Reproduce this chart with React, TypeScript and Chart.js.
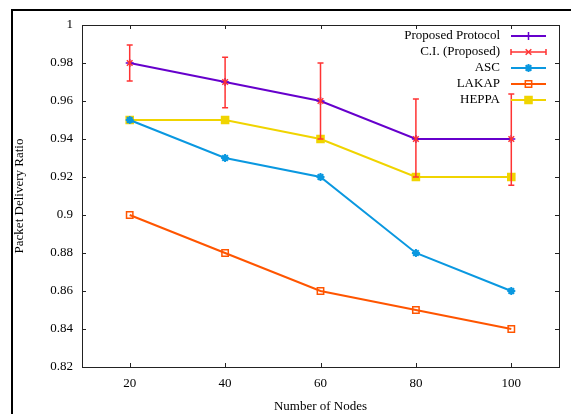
import React, { useEffect, useRef } from 'react';
import { Chart, registerables } from 'chart.js';
import { drawPoint } from 'chart.js/helpers';

Chart.register(...registerables);

const nodes = [20, 40, 60, 80, 100];
const proposed = [0.98, 0.97, 0.96, 0.94, 0.94];
const ciLow = [0.9705, 0.9565, 0.94, 0.92, 0.9156];
const ciHigh = [0.9895, 0.983, 0.98, 0.961, 0.9637];
const asc = [0.95, 0.93, 0.92, 0.88, 0.86];
const lakap = [0.9, 0.88, 0.86, 0.85, 0.84];
const heppa = [0.95, 0.95, 0.94, 0.92, 0.92];

const xTicks = [20, 40, 60, 80, 100];
const yTicks = [0.82, 0.84, 0.86, 0.88, 0.9, 0.92, 0.94, 0.96, 0.98, 1];
const seriesNames = ['Proposed Protocol', 'C.I. (Proposed)', 'ASC', 'LAKAP', 'HEPPA'];
const xTitle = 'Number of Nodes';
const yTitle = 'Packet Delivery Ratio';

const FONT_FAMILY = '"Liberation Serif", "Times New Roman", serif';
const FONT = '13px ' + FONT_FAMILY;
const CI_COLOR = '#ff3333';

const pts = (ys: number[]) => nodes.map((x, i) => ({ x, y: ys[i] }));

const decor = {
  id: 'decor',
  beforeDatasetsDraw(chart: any) {
    const { ctx, chartArea: a, scales } = chart;
    ctx.save();
    ctx.strokeStyle = '#222';
    ctx.lineWidth = 1;
    ctx.strokeRect(a.left + 0.5, a.top + 0.5, a.right - a.left, a.bottom - a.top);
    ctx.beginPath();
    const tl = 4;
    for (const v of xTicks) {
      const px = Math.round(scales.x.getPixelForValue(v)) + 0.5;
      ctx.moveTo(px, a.bottom);
      ctx.lineTo(px, a.bottom - tl);
      ctx.moveTo(px, a.top);
      ctx.lineTo(px, a.top + tl);
    }
    for (const v of yTicks) {
      const py = Math.round(scales.y.getPixelForValue(v)) + 0.5;
      ctx.moveTo(a.left, py);
      ctx.lineTo(a.left + tl, py);
      ctx.moveTo(a.right, py);
      ctx.lineTo(a.right - tl, py);
    }
    ctx.stroke();
    ctx.restore();
  },
  afterDatasetsDraw(chart: any) {
    const { ctx, scales } = chart;
    ctx.save();
    ctx.strokeStyle = CI_COLOR;
    ctx.lineWidth = 1.5;
    ctx.beginPath();
    nodes.forEach((x, i) => {
      const px = scales.x.getPixelForValue(x);
      const y1 = scales.y.getPixelForValue(ciLow[i]);
      const y2 = scales.y.getPixelForValue(ciHigh[i]);
      ctx.moveTo(px, y1);
      ctx.lineTo(px, y2);
      ctx.moveTo(px - 3, y1);
      ctx.lineTo(px + 3, y1);
      ctx.moveTo(px - 3, y2);
      ctx.lineTo(px + 3, y2);
    });
    ctx.stroke();
    ctx.restore();
  },
  afterDraw(chart: any) {
    const { ctx, chartArea: a } = chart;
    ctx.save();
    // legend
    ctx.font = FONT;
    ctx.fillStyle = '#000';
    ctx.textAlign = 'right';
    ctx.textBaseline = 'middle';
    const x0 = 511, x1 = 546, xm = (x0 + x1) / 2;
    chart.data.datasets.forEach((ds: any, i: number) => {
      const y = 36 + 16 * i;
      ctx.fillStyle = '#000';
      ctx.fillText(ds.label, 500, y);
      ctx.strokeStyle = ds.borderColor;
      ctx.lineWidth = i === 1 ? 1.5 : 2;
      ctx.beginPath();
      ctx.moveTo(x0, y);
      ctx.lineTo(x1, y);
      if (i === 1) {
        ctx.moveTo(x0, y - 3);
        ctx.lineTo(x0, y + 3);
        ctx.moveTo(x1, y - 3);
        ctx.lineTo(x1, y + 3);
      }
      ctx.stroke();
      ctx.fillStyle = ds.pointBackgroundColor;
      ctx.strokeStyle = ds.pointBorderColor;
      ctx.lineWidth = ds.pointBorderWidth;
      drawPoint(ctx, { pointStyle: ds.pointStyle, rotation: 0, radius: ds.pointRadius, borderWidth: ds.pointBorderWidth }, xm, y);
    });
    // axis titles
    ctx.fillStyle = '#000';
    ctx.font = FONT;
    ctx.textAlign = 'center';
    ctx.textBaseline = 'middle';
    ctx.fillText(xTitle, (a.left + a.right) / 2, 407);
    ctx.save();
    ctx.translate(20, (a.top + a.bottom) / 2);
    ctx.rotate(-Math.PI / 2);
    ctx.fillText(yTitle, 0, 0);
    ctx.restore();
    // outer border
    ctx.strokeStyle = '#000';
    ctx.lineWidth = 2;
    ctx.beginPath();
    ctx.moveTo(12, 414);
    ctx.lineTo(12, 10);
    ctx.lineTo(571, 10);
    ctx.stroke();
    ctx.restore();
  },
};

export default function App() {
  const ref = useRef<HTMLCanvasElement>(null);
  useEffect(() => {
    if (!ref.current) return;
    const mk = (label: string, data: number[], color: string, style: string, radius: number, fill: string, extra: any = {}) => ({
      label,
      data: pts(data),
      borderColor: color,
      backgroundColor: color,
      borderWidth: 2,
      pointStyle: style,
      pointRadius: radius,
      pointBackgroundColor: fill,
      pointBorderColor: color,
      pointBorderWidth: 1.5,
      showLine: true,
      ...extra,
    });
    const chart = new Chart(ref.current, {
      type: 'line',
      data: {
        datasets: [
          mk(seriesNames[0], proposed, '#6600cc', 'cross', 4, '#6600cc'),
          mk(seriesNames[1], proposed, CI_COLOR, 'crossRot', 4, CI_COLOR, { showLine: false, order: -1 }),
          mk(seriesNames[2], asc, '#0a98e0', 'star', 4, '#0a98e0', { pointBorderWidth: 2 }),
          mk(seriesNames[3], lakap, '#ff5500', 'rect', 4.5, 'rgba(255,255,255,0)'),
          mk(seriesNames[4], heppa, '#f0d400', 'rect', 5, '#f0d400'),
        ] as any,
      },
      options: {
        animation: false,
        responsive: false,
        devicePixelRatio: 1,
        layout: { padding: { top: 25, right: 12, left: 0, bottom: 0 } },
        plugins: { legend: { display: false }, tooltip: { enabled: false } },
        elements: { line: { tension: 0 } },
        scales: {
          x: {
            type: 'linear',
            min: 10,
            max: 110,
            afterBuildTicks: (s: any) => { s.ticks = xTicks.map((v) => ({ value: v })); },
            afterFit: (s: any) => { s.height = 47; },
            grid: { display: false, drawTicks: false },
            border: { display: false },
            ticks: { padding: 9, color: '#000', font: { family: FONT_FAMILY, size: 13 }, maxRotation: 0, autoSkip: false },
          },
          y: {
            type: 'linear',
            min: 0.82,
            max: 1,
            afterBuildTicks: (s: any) => { s.ticks = yTicks.map((v) => ({ value: v })); },
            afterFit: (s: any) => { s.width = 82; },
            grid: { display: false, drawTicks: false },
            border: { display: false },
            ticks: {
              padding: 9,
              color: '#000',
              font: { family: FONT_FAMILY, size: 13 },
              callback: (v: any) => String(parseFloat(Number(v).toFixed(2))),
            },
          },
        },
      } as any,
      plugins: [decor],
    });
    return () => chart.destroy();
  }, []);
  return (
    <canvas
      ref={ref}
      width={571}
      height={414}
      style={{ position: 'fixed', left: 0, top: 0, display: 'block', background: '#fff' }}
    />
  );
}
